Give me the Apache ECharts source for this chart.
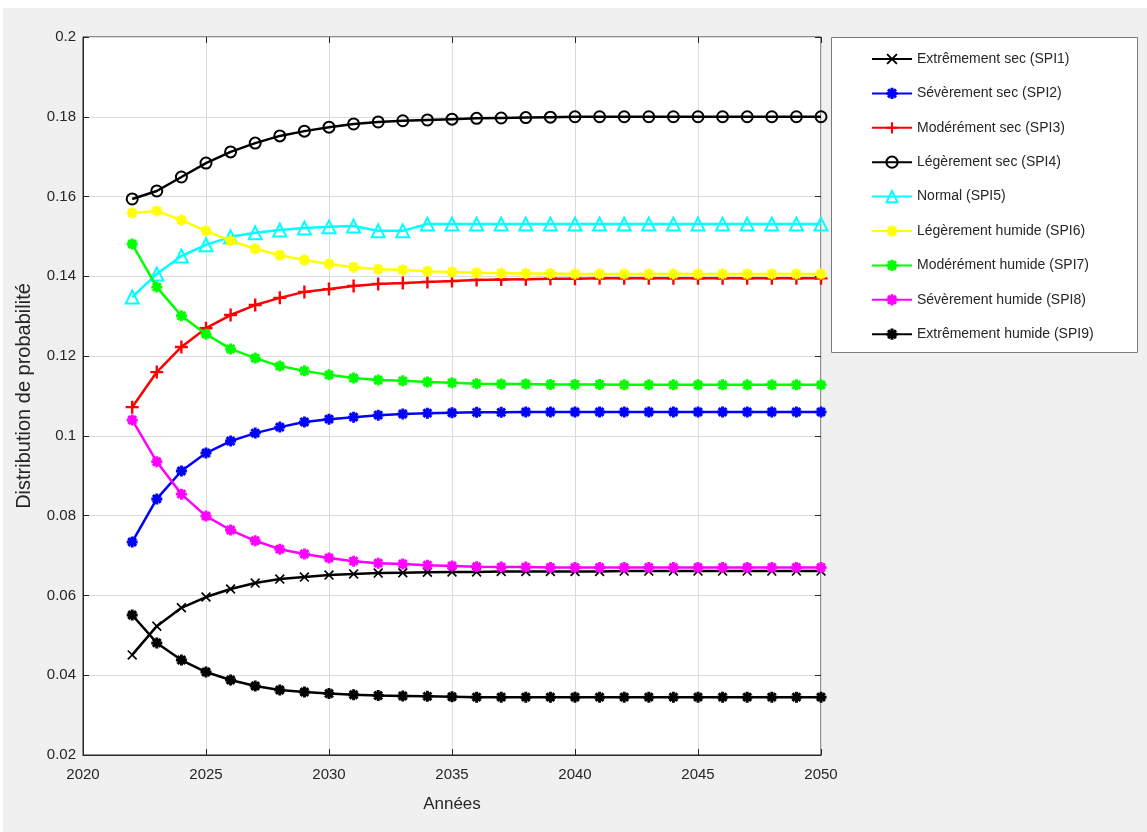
<!DOCTYPE html>
<html>
<head>
<meta charset="utf-8">
<script src="https://cdn.jsdelivr.net/npm/echarts@6/dist/echarts.min.js"></script>
<style>
html,body{margin:0;padding:0;background:#fff;}
#chart{width:1147px;height:832px;}
</style>
</head>
<body>
<div id="chart"></div>
<script>
const years = [2022,2023,2024,2025,2026,2027,2028,2029,2030,2031,2032,2033,2034,2035,2036,2037,2038,2039,2040,2041,2042,2043,2044,2045,2046,2047,2048,2049,2050];
const seriesNames = ['Extrêmement sec (SPI1)','Sévèrement sec (SPI2)','Modérément sec (SPI3)','Légèrement sec (SPI4)','Normal (SPI5)','Légèrement humide (SPI6)','Modérément humide (SPI7)','Sévèrement humide (SPI8)','Extrêmement humide (SPI9)'];
const spi1 = [0.0451,0.0523,0.0569,0.0596,0.0616,0.0631,0.0641,0.0646,0.0651,0.0654,0.0656,0.0657,0.0658,0.0659,0.0659,0.0660,0.0660,0.0660,0.0660,0.0660,0.0661,0.0661,0.0661,0.0661,0.0661,0.0661,0.0661,0.0661,0.0661];
const spi2 = [0.0734,0.0842,0.0912,0.0957,0.0987,0.1007,0.1022,0.1035,0.1042,0.1047,0.1052,0.1055,0.1057,0.1058,0.1059,0.1059,0.1060,0.1060,0.1060,0.1060,0.1060,0.1060,0.1060,0.1060,0.1060,0.1060,0.1060,0.1060,0.1060];
const spi3 = [0.1072,0.1160,0.1223,0.1270,0.1303,0.1328,0.1346,0.1361,0.1368,0.1376,0.1381,0.1383,0.1386,0.1388,0.1391,0.1392,0.1393,0.1394,0.1394,0.1395,0.1395,0.1395,0.1395,0.1395,0.1395,0.1395,0.1395,0.1395,0.1395];
const spi4 = [0.1594,0.1614,0.1649,0.1684,0.1712,0.1734,0.1752,0.1764,0.1774,0.1782,0.1787,0.1790,0.1792,0.1794,0.1796,0.1797,0.1798,0.1799,0.1800,0.1800,0.1800,0.1800,0.1800,0.1800,0.1800,0.1800,0.1800,0.1800,0.1800];
const spi5 = [0.1348,0.1406,0.1451,0.1479,0.1499,0.1509,0.1516,0.1521,0.1524,0.1526,0.1514,0.1514,0.1531,0.1531,0.1531,0.1531,0.1531,0.1531,0.1531,0.1531,0.1531,0.1531,0.1531,0.1531,0.1531,0.1531,0.1531,0.1531,0.1531];
const spi6 = [0.1559,0.1564,0.1541,0.1514,0.1489,0.1469,0.1453,0.1441,0.1431,0.1423,0.1418,0.1416,0.1413,0.1411,0.1409,0.1408,0.1407,0.1407,0.1406,0.1406,0.1406,0.1406,0.1406,0.1406,0.1406,0.1406,0.1406,0.1406,0.1406];
const spi7 = [0.1481,0.1373,0.1301,0.1255,0.1218,0.1195,0.1175,0.1163,0.1153,0.1145,0.1140,0.1138,0.1135,0.1133,0.1131,0.1130,0.1130,0.1129,0.1129,0.1129,0.1128,0.1128,0.1128,0.1128,0.1128,0.1128,0.1128,0.1128,0.1128];
const spi8 = [0.1040,0.0935,0.0854,0.0799,0.0764,0.0737,0.0716,0.0704,0.0694,0.0686,0.0681,0.0679,0.0676,0.0674,0.0672,0.0671,0.0671,0.0670,0.0670,0.0670,0.0670,0.0670,0.0670,0.0670,0.0670,0.0670,0.0670,0.0670,0.0670];
const spi9 = [0.0551,0.0481,0.0438,0.0408,0.0388,0.0373,0.0363,0.0358,0.0354,0.0351,0.0349,0.0348,0.0347,0.0346,0.0345,0.0345,0.0345,0.0345,0.0345,0.0345,0.0345,0.0345,0.0345,0.0345,0.0345,0.0345,0.0345,0.0345,0.0345];
const seriesValues = [spi1,spi2,spi3,spi4,spi5,spi6,spi7,spi8,spi9];
const seriesColors = ['#000000','#0000ff','#ff0000','#000000','#00ffff','#ffff00','#00ff00','#ff00ff','#000000'];
const xTicks = [2020,2025,2030,2035,2040,2045,2050];
const yTicks = [0.02,0.04,0.06,0.08,0.1,0.12,0.14,0.16,0.18,0.2];

const ASTER = 'path://M-1.6,-6L1.6,-6L1.6,-1.6L6,-1.6L6,1.6L1.6,1.6L1.6,6L-1.6,6L-1.6,1.6L-6,1.6L-6,-1.6L-1.6,-1.6Z M-5.4,-3.1L-3.1,-5.4L5.4,3.1L3.1,5.4Z M3.1,-5.4L5.4,-3.1L-3.1,5.4L-5.4,3.1Z';
const XMARK = 'path://M-5,-3.8L-3.8,-5L5,3.8L3.8,5Z M3.8,-5L5,-3.8L-3.8,5L-5,3.8Z';
const PLUS = 'path://M-1.1,-6L1.1,-6L1.1,-1.1L6,-1.1L6,1.1L1.1,1.1L1.1,6L-1.1,6L-1.1,1.1L-6,1.1L-6,-1.1L-1.1,-1.1Z';
const markers = [
  {symbol: XMARK, size: 10, hollow: false},
  {symbol: ASTER, size: 11, hollow: false},
  {symbol: PLUS, size: 13, hollow: false},
  {symbol: 'circle', size: 11, hollow: true},
  {symbol: 'triangle', size: 13, hollow: true},
  {symbol: ASTER, size: 11, hollow: false},
  {symbol: ASTER, size: 11, hollow: false},
  {symbol: ASTER, size: 11, hollow: false},
  {symbol: ASTER, size: 11, hollow: false}
];

const chart = echarts.init(document.getElementById('chart'), null, {renderer: 'canvas'});
const font = '"Liberation Sans", Arial, Helvetica, sans-serif';
const txt = '#262626';

const series = seriesNames.map((name, i) => {
  const m = markers[i];
  return {
    name: name,
    type: 'line',
    data: years.map((y, k) => [y, seriesValues[i][k]]),
    symbol: m.symbol,
    symbolSize: m.size,
    showAllSymbol: true,
    lineStyle: {color: seriesColors[i], width: 2.5},
    itemStyle: m.hollow
      ? {color: 'rgba(255,255,255,0)', borderColor: seriesColors[i], borderWidth: 2}
      : {color: seriesColors[i], borderWidth: 0},
    emphasis: {disabled: true},
    z: 2 + i
  };
});

const option = {
  backgroundColor: '#f0f0f0',
  animation: false,
  textStyle: {fontFamily: font},
  graphic: [
    {type: 'rect', left: 0, top: 0, shape: {width: 1147, height: 8}, style: {fill: '#ffffff'}, silent: true},
    {type: 'rect', left: 0, top: 0, shape: {width: 3, height: 832}, style: {fill: '#ffffff'}, silent: true},
    {type: 'rect', left: 831, top: 37, shape: {width: 306, height: 315}, style: {fill: '#ffffff', stroke: '#7a7a7a', lineWidth: 1}, silent: true, z: -1}
  ],
  grid: {
    left: 83, top: 37, right: 326, bottom: 77,
    show: true, backgroundColor: '#ffffff', borderColor: '#262626', borderWidth: 1
  },
  legend: {
    orient: 'vertical',
    left: 871, top: 52,
    itemWidth: 40, itemHeight: 14, itemGap: 20.4,
    padding: 0,
    data: seriesNames,
    textStyle: {fontFamily: font, fontSize: 14, color: txt, lineHeight: 14},
    selectedMode: false
  },
  xAxis: [{
    type: 'value', min: 2020, max: 2050, interval: 5,
    name: 'Années', nameLocation: 'middle', nameGap: 41,
    nameTextStyle: {fontSize: 17, color: txt, fontFamily: font},
    axisLine: {show: true, lineStyle: {color: '#262626'}},
    axisTick: {show: true, inside: true, length: 6, lineStyle: {color: '#262626'}},
    axisLabel: {fontSize: 15, color: txt, margin: 12, fontFamily: font,
      formatter: v => String(v)},
    splitLine: {show: true, lineStyle: {color: '#dcdcdc', width: 1}}
  }, {
    type: 'value', min: 2020, max: 2050, interval: 5, position: 'top',
    axisLine: {show: false}, axisLabel: {show: false}, splitLine: {show: false},
    axisTick: {show: true, inside: true, length: 6, lineStyle: {color: '#262626'}}
  }],
  yAxis: [{
    type: 'value', min: 0.02, max: 0.2, interval: 0.02,
    name: 'Distribution de probabilité', nameLocation: 'middle', nameGap: 49,
    nameRotate: 90,
    nameTextStyle: {fontSize: 20, color: txt, fontFamily: font},
    axisLine: {show: true, lineStyle: {color: '#262626'}},
    axisTick: {show: true, inside: true, length: 6, lineStyle: {color: '#262626'}},
    axisLabel: {fontSize: 15, color: txt, margin: 7, fontFamily: font,
      formatter: v => String(parseFloat(v.toFixed(2)))},
    splitLine: {show: true, lineStyle: {color: '#dcdcdc', width: 1}}
  }, {
    type: 'value', min: 0.02, max: 0.2, interval: 0.02, position: 'right',
    axisLine: {show: false}, axisLabel: {show: false}, splitLine: {show: false},
    axisTick: {show: true, inside: true, length: 6, lineStyle: {color: '#262626'}}
  }],
  series: series
};
chart.setOption(option);
</script>
</body>
</html>
